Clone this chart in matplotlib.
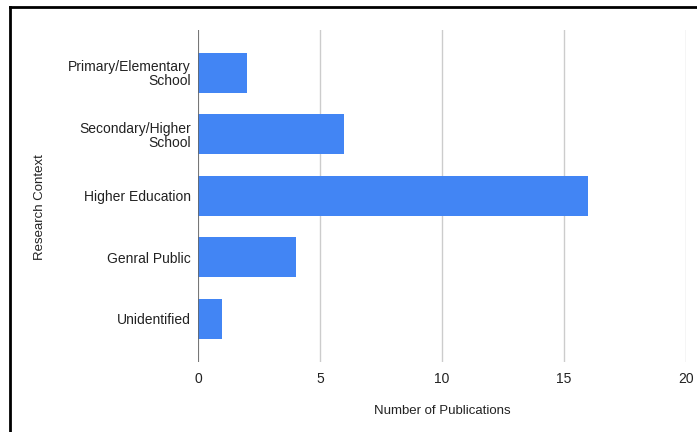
import matplotlib.pyplot as plt
from matplotlib.lines import Line2D

plt.rcParams['font.family'] = ['Liberation Sans', 'DejaVu Sans']

contexts = ['Primary/Elementary\nSchool', 'Secondary/Higher\nSchool', 'Higher Education',
            'Genral Public', 'Unidentified']
publications = [2, 6, 16, 4, 1]
xticks = [0, 5, 10, 15, 20]

fig = plt.figure(figsize=(6.97, 4.32), dpi=100)
ax = fig.add_axes([0.284, 0.162, 0.700, 0.769])

pos = list(range(len(contexts)))
ax.barh(pos, publications, height=0.65, color='#4285f4', zorder=3)
ax.set_yticks(pos)
ax.set_yticklabels(contexts, fontsize=10, color='#222222', linespacing=1.0)
ax.set_ylim(4.7, -0.7)
ax.set_xlim(0, 20)
ax.set_xticks(xticks)
ax.set_xticklabels([str(t) for t in xticks], fontsize=10, color='#222222')
ax.tick_params(length=0, pad=5)
ax.tick_params(axis='x', pad=7)
ax.grid(axis='x', color='#cccccc', linewidth=1, zorder=0)
ax.axvline(0, color='#666666', linewidth=1.2, zorder=4)
for s in ax.spines.values():
    s.set_visible(False)

ax.set_xlabel('Number of Publications', fontsize=9.5, color='#222222', labelpad=14)
fig.text(40/697, 1 - 207/432, 'Research Context', rotation=90, fontsize=9.5,
         color='#222222', ha='center', va='center')

# black frame round the screenshot
fig.add_artist(Line2D([10/697, 10/697], [0, 1 - 7/432], transform=fig.transFigure,
                      color='black', linewidth=2))
fig.add_artist(Line2D([10/697, 1], [1 - 7/432, 1 - 7/432], transform=fig.transFigure,
                      color='black', linewidth=2))

fig.savefig('out.png', dpi=100)
